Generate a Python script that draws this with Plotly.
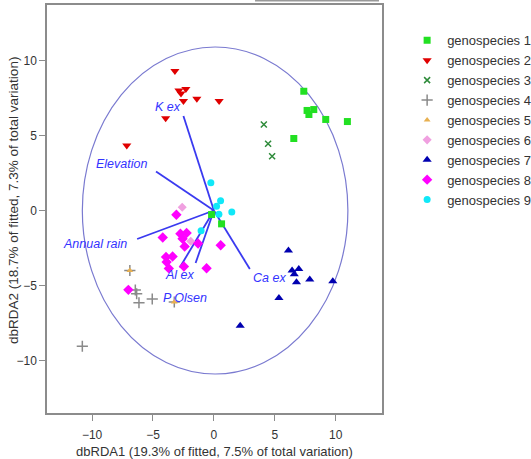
import plotly.graph_objects as go

# ---- data ----
gs1_x = [7.38, 7.65, 7.8, 8.2, 9.18, 10.96, 6.56, -0.19, 0.63]
gs1_y = [7.95, 6.67, 6.4, 6.73, 6.07, 5.93, 4.8, -0.27, -0.89]

gs2_x = [-3.2, -2.87, -2.3, -2.7, -2.5, -1.4, 0.43, -3.96, -7.15]
gs2_y = [9.3, 8.0, 8.1, 7.8, 7.3, 7.45, 7.3, 6.15, 4.33]

gs3_x = [4.1, 4.45, 4.78]
gs3_y = [5.73, 4.45, 3.62]

gs4_x = [-6.9, -6.45, -6.34, -6.15, -5.06, -3.25, -10.8]
gs4_y = [-4.0, -5.3, -5.55, -6.15, -5.9, -6.1, -9.05]

gs5_x = [-6.9, -3.25]
gs5_y = [-4.0, -6.1]

gs6_x = [-2.6, -1.9]
gs6_y = [0.22, -2.05]

gs7_x = [6.12, 6.42, 6.97, 6.6, 6.78, 7.87, 9.76, 5.34, 2.16]
gs7_y = [-2.67, -4.0, -3.9, -4.25, -4.78, -4.6, -4.72, -5.84, -7.69]

gs8_x = [-3.08, -4.2, -2.75, -2.24, -2.57, -1.3, -2.4, 0.56, -3.93, -3.39, -3.88, -3.7, -2.46, -0.6, -7.02]
gs8_y = [-0.28, -1.8, -1.55, -1.5, -1.88, -2.2, -2.4, -2.32, -3.1, -3.07, -3.44, -3.86, -3.73, -3.85, -5.29]

gs9_x = [-0.25, 0.55, 0.22, 0.41, 1.47, -1.05]
gs9_y = [1.85, 0.65, 0.28, -0.25, -0.1, -1.35]

vec_names = ["K ex", "Elevation", "Annual rain", "Al ex", "P Olsen", "Ca ex"]
vec_x = [-2.5, -4.75, -6.3, -2.8, -1.5, 2.95]
vec_y = [6.3, 2.6, -1.9, -3.8, -3.5, -3.9]
lab_x = [-3.8, -7.6, -9.8, -2.8, -2.4, 4.6]
lab_y = [6.9, 3.1, -2.2, -4.3, -5.8, -4.5]

x_ticks = [-10, -5, 0, 5, 10]
y_ticks = [-10, -5, 0, 5, 10]
circle_r = 10.9

x_title = "dbRDA1 (19.3% of fitted, 7.5% of total variation)"
y_title = "dbRDA2 (18.7% of fitted, 7.3% of total variation)"

FONT = "Liberation Sans, Arial, sans-serif"

series = [
    ("genospecies 1", gs1_x, gs1_y, "square", "#22e022", 7, 0),
    ("genospecies 2", gs2_x, gs2_y, "triangle-down", "#e00000", 8, 0),
    ("genospecies 3", gs3_x, gs3_y, "x-thin", "#2e8b3a", 6, 1.5),
    ("genospecies 4", gs4_x, gs4_y, "cross-thin", "#8a8a8a", 8, 1.5),
    ("genospecies 5", gs5_x, gs5_y, "triangle-up", "#e8b050", 6, 0),
    ("genospecies 6", gs6_x, gs6_y, "diamond", "#f0a0e0", 7, 0),
    ("genospecies 7", gs7_x, gs7_y, "triangle-up", "#0000b0", 8, 0),
    ("genospecies 8", gs8_x, gs8_y, "diamond", "#ff00ff", 8, 0),
    ("genospecies 9", gs9_x, gs9_y, "circle", "#10e8f8", 7, 0),
]

fig = go.Figure()

# vectors
for i, name in enumerate(vec_names):
    fig.add_trace(go.Scatter(
        x=[0, vec_x[i]], y=[0, vec_y[i]], mode="lines",
        line=dict(color="#3a3af0", width=1.8),
        showlegend=False, hoverinfo="skip"))

for (name, xs, ys, sym, col, sz, lw) in series:
    mk = dict(symbol=sym, color=col, size=sz)
    if lw:
        mk["line"] = dict(color=col, width=lw)
    fig.add_trace(go.Scatter(x=xs, y=ys, mode="markers", name=name, marker=mk))

for i, name in enumerate(vec_names):
    fig.add_annotation(x=lab_x[i], y=lab_y[i], text="<i>" + name + "</i>",
                       showarrow=False, font=dict(family=FONT, size=12.5, color="#3333ff"))

# y-axis title as rotated annotation
fig.add_annotation(xref="paper", yref="paper", x=-0.1015, y=0.522,
                   text=y_title, textangle=-90, showarrow=False,
                   xanchor="center", yanchor="middle",
                   font=dict(family=FONT, size=13.5, color="#333333"))

fig.add_shape(type="circle", xref="x", yref="y",
              x0=-circle_r + 0.1, x1=circle_r + 0.1, y0=-circle_r, y1=circle_r,
              line=dict(color="#7a7ad0", width=1.2), layer="below")

fig.add_shape(type="line", xref="paper", yref="paper",
              x0=0.621, x1=0.991, y0=1.011, y1=1.011,
              line=dict(color="#999999", width=2))

axis_common = dict(showgrid=False, zeroline=False, showline=True, mirror=True,
                   linecolor="#8c8c8c", linewidth=1.5, ticks="outside", ticklen=6,
                   tickcolor="#8c8c8c", automargin=False,
                   tickfont=dict(family=FONT, size=12, color="#333333"))

fig.update_layout(
    width=531, height=459,
    margin=dict(l=47, r=149, t=5, b=46, autoexpand=False),
    paper_bgcolor="white", plot_bgcolor="white",
    font=dict(family=FONT, size=12, color="#333333"),
    xaxis=dict(range=[-13.7, 13.8], tickvals=x_ticks, ticklabelstandoff=4,
               title=dict(text=x_title,
                          font=dict(size=13, color="#333333"), standoff=6),
               **axis_common),
    yaxis=dict(range=[-13.5, 13.7], tickvals=y_ticks, **axis_common),
    legend=dict(x=1.075, y=0.95, xanchor="left", yanchor="top",
                font=dict(family=FONT, size=13, color="#333333"),
                itemwidth=30, tracegroupgap=0, bgcolor="rgba(0,0,0,0)"),
    showlegend=True,
)

fig.write_html("out.html", config={"displayModeBar": False},
               post_script="document.body.style.margin='0px';document.body.style.padding='0px';")
